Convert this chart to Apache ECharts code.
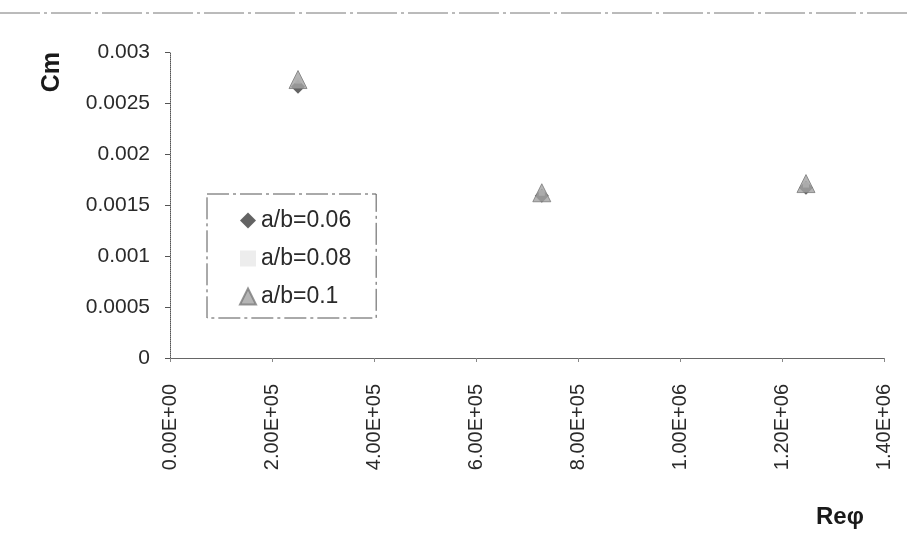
<!DOCTYPE html>
<html>
<head>
<meta charset="utf-8">
<script src="https://cdn.jsdelivr.net/npm/echarts@6/dist/echarts.min.js"></script>
<style>html,body{margin:0;padding:0;background:#fff;}#c{width:907px;height:542px;}</style>
</head>
<body>
<div id="c"></div>
<script>
const seriesNames = ['a/b=0.06', 'a/b=0.08', 'a/b=0.1'];
const reValues = [251000, 729000, 1247000];
const cm006 = [0.00266, 0.00159, 0.00167];
const cm008 = [0.00272, 0.00162, 0.00170];
const cm01  = [0.00273, 0.00162, 0.00171];
const xTickLabels = ['0.00E+00','2.00E+05','4.00E+05','6.00E+05','8.00E+05','1.00E+06','1.20E+06','1.40E+06'];
const yTickLabels = ['0','0.0005','0.001','0.0015','0.002','0.0025','0.003'];
const yTitle = 'Cm';
const xTitle = 'Reφ';

const font = 'Liberation Sans, Arial, sans-serif';
const chart = echarts.init(document.getElementById('c'), null, {renderer: 'canvas'});
const pair = (ys) => reValues.map((x, i) => [x, ys[i]]);

chart.setOption({
  backgroundColor: '#fff',
  animation: false,
  grid: {left: 170, right: 23, top: 52, bottom: 184, containLabel: false},
  xAxis: {
    type: 'value', min: 0, max: 1400000, interval: 200000,
    axisLine: {show: true, lineStyle: {color: '#666', width: 1}},
    axisTick: {show: true, length: 4, inside: false, lineStyle: {color: '#888'}},
    splitLine: {show: false},
    axisLabel: {
      rotate: 90, margin: 26, fontFamily: font, fontSize: 20, color: '#2a2a2a',
      formatter: (v) => xTickLabels[Math.round(v / 200000)]
    }
  },
  yAxis: {
    type: 'value', min: 0, max: 0.003, interval: 0.0005,
    axisLine: {show: true, lineStyle: {color: '#555', width: 1, type: 'dotted'}},
    axisTick: {show: true, length: 5, lineStyle: {color: '#555'}},
    splitLine: {show: false},
    axisLabel: {
      margin: 20, fontFamily: font, fontSize: 21, color: '#2a2a2a',
      formatter: (v) => yTickLabels[Math.round(v / 0.0005)]
    }
  },
  legend: {
    show: true,
    left: 207, top: 194,
    orient: 'vertical',
    itemGap: 15, itemWidth: 16, itemHeight: 16,
    padding: [15, 25, 10, 32],
    borderColor: '#555', borderWidth: 1, borderType: [22, 4, 3, 4],
    textStyle: {fontFamily: font, fontSize: 23, color: '#2a2a2a', lineHeight: 23},
    data: [
      {name: seriesNames[0], icon: 'diamond'},
      {name: seriesNames[1], icon: 'rect'},
      {name: seriesNames[2], icon: 'triangle'}
    ]
  },
  graphic: [
    {type: 'line', shape: {x1: 0, y1: 13, x2: 907, y2: 13}, style: {stroke: '#777', lineWidth: 1, lineDash: [40, 4, 3, 4]}, silent: true},
    {type: 'text', left: 40, top: 52, rotation: Math.PI / 2,
     style: {text: yTitle, fontFamily: font, fontSize: 25, fontWeight: 'bold', fill: '#1a1a1a'}},
    {type: 'text', left: 816, top: 505,
     style: {text: xTitle, fontFamily: font, fontSize: 24, fontWeight: 'bold', fill: '#1a1a1a'}}
  ],
  series: [
    {name: seriesNames[0], type: 'scatter', symbol: 'diamond', symbolSize: 14, data: pair(cm006),
     itemStyle: {color: '#3c3c3c'}, z: 2},
    {name: seriesNames[1], type: 'scatter', symbol: 'rect', symbolSize: 6, data: pair(cm008),
     itemStyle: {color: '#e8e8e8'}, z: 3},
    {name: seriesNames[2], type: 'scatter', symbol: 'triangle', symbolSize: 18, data: pair(cm01),
     itemStyle: {color: '#a2a2a2', borderColor: '#7a7a7a', borderWidth: 1}, z: 4}
  ]
});
</script>
</body>
</html>
